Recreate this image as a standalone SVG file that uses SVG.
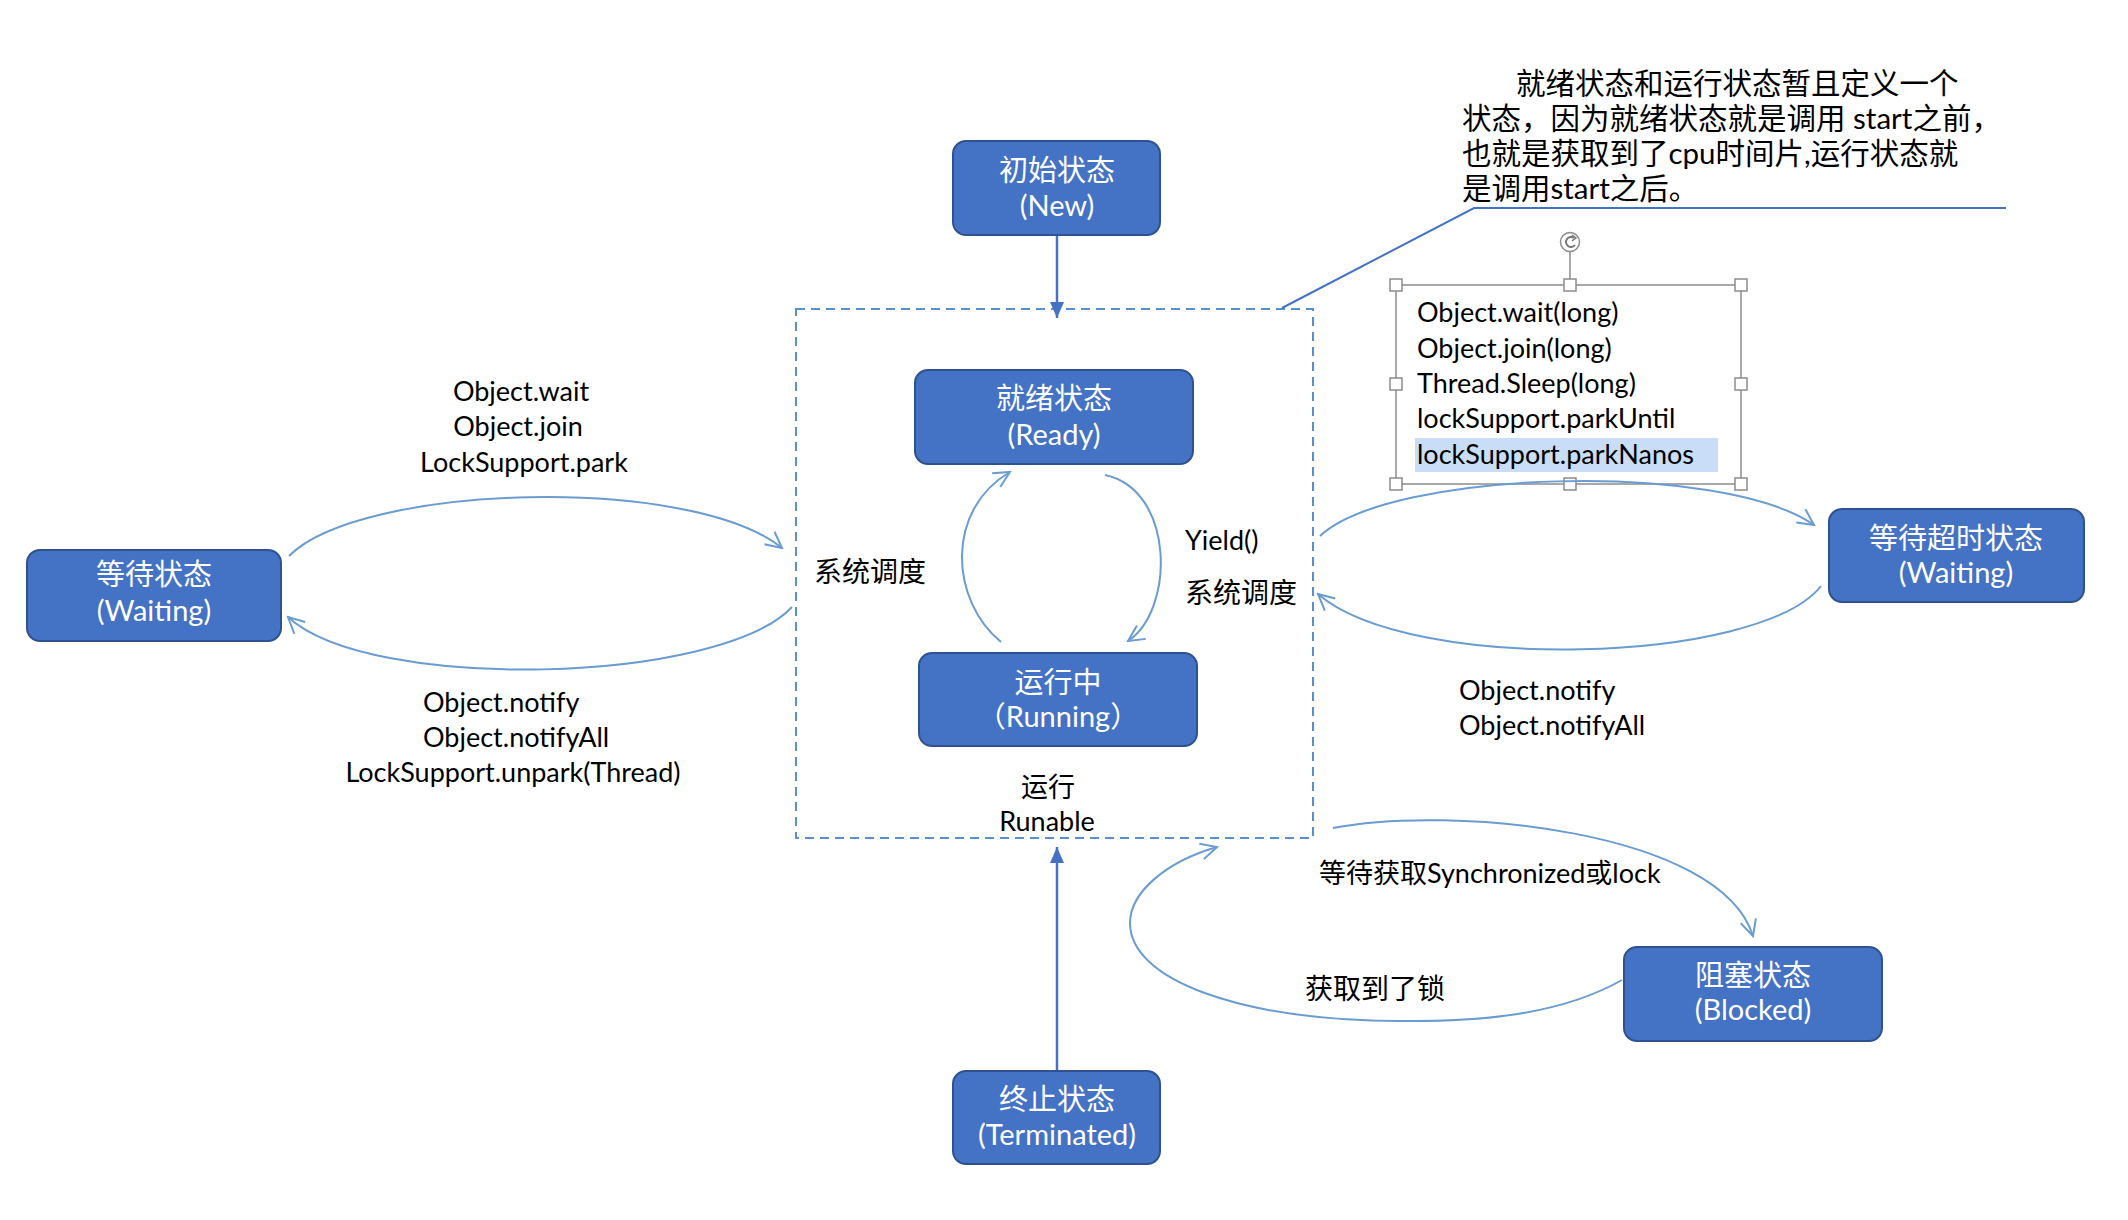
<svg xmlns="http://www.w3.org/2000/svg" width="2128" height="1220" viewBox="0 0 2128 1220">
<style>
.node rect{fill:#4472C4;stroke:#2F528F;stroke-width:2}
.node text{fill:#fff;font-family:Lato,"Noto Sans CJK SC",sans-serif;font-size:29px;text-anchor:middle}
.lbl{fill:#000;font-family:Lato,"Noto Sans CJK SC",sans-serif;font-size:27px}
.mid{text-anchor:middle}
.arc{fill:none;stroke:#6A9BD1;stroke-width:2;marker-end:url(#open)}
.solid{fill:none;stroke:#4472C4;stroke-width:2.5;marker-end:url(#filled)}
.handle{fill:#fff;stroke:#8c8c8c;stroke-width:1.5}
.note{fill:#000;font-family:Lato,"Noto Sans CJK SC",sans-serif;font-size:29.5px}
</style>
<defs>
<marker id="open" viewBox="0 0 20 20" refX="18" refY="10" markerWidth="20" markerHeight="20" orient="auto" markerUnits="userSpaceOnUse">
<path d="M2,2 L18,10 L2,18" fill="none" stroke="#6A9BD1" stroke-width="2"/>
</marker>
<marker id="filled" viewBox="0 0 16 14" refX="16" refY="7" markerWidth="16" markerHeight="14" orient="auto" markerUnits="userSpaceOnUse">
<path d="M0,0 L16,7 L0,14 Z" fill="#4472C4"/>
</marker>
</defs>
<rect width="2128" height="1220" fill="#fff"/>

<!-- Runnable container -->
<g id="runnable">
<rect x="796" y="309" width="517" height="529" fill="none" stroke="#5B8FCB" stroke-width="2" stroke-dasharray="9,6"/>
<text class="lbl mid" x="1048" y="797">运行</text>
<text class="lbl mid" x="1047" y="831">Runable</text>
</g>

<!-- Annotation -->
<g id="annotation">
<text class="note" x="1516" y="94">就绪状态和运行状态暂且定义一个</text>
<text class="note" x="1462" y="129">状态，因为就绪状态就是调用 start之前，</text>
<text class="note" x="1462" y="164">也就是获取到了cpu时间片,运行状态就</text>
<text class="note" x="1462" y="199">是调用start之后。</text>
<path d="M1282,308 L1474,208 L2006,208" fill="none" stroke="#4472C4" stroke-width="2"/>
</g>

<!-- Timed-waiting methods text box -->
<g id="timed-methods">
<rect x="1415" y="438" width="303" height="34" fill="#CADDF6"/>
<rect x="1396" y="285" width="345" height="199" fill="none" stroke="#8c8c8c" stroke-width="1.5"/>
<line x1="1570" y1="251" x2="1570" y2="285" stroke="#8c8c8c" stroke-width="1.5"/>
<circle cx="1570" cy="242" r="9.5" class="handle"/>
<path d="M1574,238 A5,5 0 1 0 1575,245" fill="none" stroke="#777" stroke-width="2"/>
<path d="M1572,235 L1576,238 L1572,241" fill="none" stroke="#777" stroke-width="1.5"/>
<rect class="handle" x="1390" y="279" width="12" height="12"/>
<rect class="handle" x="1564" y="279" width="12" height="12"/>
<rect class="handle" x="1735" y="279" width="12" height="12"/>
<rect class="handle" x="1390" y="378" width="12" height="12"/>
<rect class="handle" x="1735" y="378" width="12" height="12"/>
<rect class="handle" x="1390" y="478" width="12" height="12"/>
<rect class="handle" x="1564" y="478" width="12" height="12"/>
<rect class="handle" x="1735" y="478" width="12" height="12"/>
<text class="lbl" x="1417" y="322">Object.wait(long)</text>
<text class="lbl" x="1417" y="358">Object.join(long)</text>
<text class="lbl" x="1417" y="393">Thread.Sleep(long)</text>
<text class="lbl" x="1417" y="428">lockSupport.parkUntil</text>
<text class="lbl" x="1417" y="464">lockSupport.parkNanos</text>
</g>

<!-- Connectors -->
<g id="connectors">
<path class="solid" d="M1057,235 L1057,318"/>
<path class="solid" d="M1057,1071 L1057,847"/>
<path class="arc" d="M289,556 C360,484 690,474 782,548"/>
<path class="arc" d="M792,607 C720,684 370,693 288,617"/>
<path class="arc" d="M1001,642 C950,600 945,510 1010,472"/>
<path class="arc" d="M1105,475 C1175,490 1175,610 1128,641"/>
<path class="arc" d="M1320,536 C1390,470 1720,460 1814,525"/>
<path class="arc" d="M1821,586 C1760,664 1410,674 1318,594"/>
<path class="arc" d="M1333,828 C1450,805 1720,830 1753,936"/>
<path class="arc" d="M1622,980 C1560,1015 1480,1022 1398,1021 C1240,1020 1130,980 1130,923 C1130,893 1165,862 1217,847"/>
</g>

<!-- Connector labels -->
<g id="labels">
<text class="lbl mid" x="521" y="401">Object.wait</text>
<text class="lbl mid" x="518" y="436">Object.join</text>
<text class="lbl mid" x="524" y="472">LockSupport.park</text>
<text class="lbl" x="423" y="712">Object.notify</text>
<text class="lbl" x="423" y="747">Object.notifyAll</text>
<text class="lbl mid" x="513" y="782">LockSupport.unpark(Thread)</text>
<text class="lbl" x="814" y="582" style="font-size:28px">系统调度</text>
<text class="lbl" x="1185" y="550">Yield()</text>
<text class="lbl" x="1185" y="603" style="font-size:28px">系统调度</text>
<text class="lbl" x="1459" y="700">Object.notify</text>
<text class="lbl" x="1459" y="735">Object.notifyAll</text>
<text class="lbl" x="1319" y="883">等待获取Synchronized或lock</text>
<text class="lbl" x="1305" y="999" style="font-size:28px">获取到了锁</text>
</g>

<!-- Nodes -->
<g id="node-new" class="node">
<rect x="953" y="141" width="207" height="94" rx="13"/>
<text x="1057" y="181">初始状态</text>
<text x="1057" y="216">(New)</text>
</g>
<g id="node-ready" class="node">
<rect x="915" y="370" width="278" height="94" rx="13"/>
<text x="1054" y="409">就绪状态</text>
<text x="1054" y="445">(Ready)</text>
</g>
<g id="node-running" class="node">
<rect x="919" y="653" width="278" height="93" rx="13"/>
<text x="1058" y="693">运行中</text>
<text x="1058" y="727">（Running）</text>
</g>
<g id="node-waiting" class="node">
<rect x="27" y="550" width="254" height="91" rx="13"/>
<text x="154" y="585">等待状态</text>
<text x="154" y="621">(Waiting)</text>
</g>
<g id="node-timed-waiting" class="node">
<rect x="1829" y="509" width="255" height="93" rx="13"/>
<text x="1956" y="549">等待超时状态</text>
<text x="1956" y="583">(Waiting)</text>
</g>
<g id="node-blocked" class="node">
<rect x="1624" y="947" width="258" height="94" rx="13"/>
<text x="1753" y="986">阻塞状态</text>
<text x="1753" y="1020">(Blocked)</text>
</g>
<g id="node-terminated" class="node">
<rect x="953" y="1071" width="207" height="93" rx="13"/>
<text x="1057" y="1110">终止状态</text>
<text x="1057" y="1145">(Terminated)</text>
</g>
</svg>
